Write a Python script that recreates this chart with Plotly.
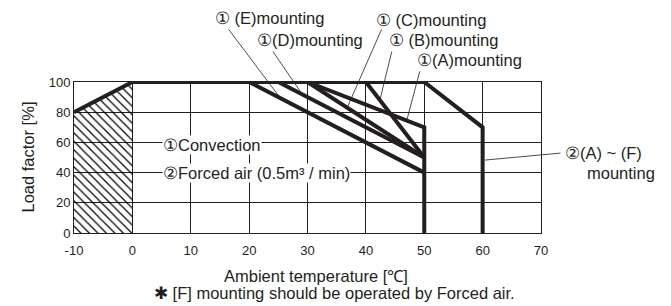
import plotly.graph_objects as go

# ---- data ----
x_ticks = [-10, 0, 10, 20, 30, 40, 50, 60, 70]
x_tick_labels = ["-10", "0", "10", "20", "30", "40", "50", "60", "70"]
y_ticks = [0, 20, 40, 60, 80, 100]
y_tick_labels = ["0", "20", "40", "60", "80", "100"]

# derating envelope (common start + forced air)
forced_x = [-10, 0, 50, 60, 60]
forced_y = [80, 100, 100, 70, 0]
# hatched low-temperature region
hatch_x = [-10, -10, 0, 0]
hatch_y = [0, 80, 100, 0]
# convection mountings
conv_A_x = [30, 50, 50]
conv_A_y = [100, 70, 0]
conv_B_x = [40, 50]
conv_B_y = [100, 50]
conv_C_x = [30, 50]
conv_C_y = [100, 50]
conv_D_x = [25, 50]
conv_D_y = [100, 50]
conv_E_x = [20, 50]
conv_E_y = [100, 40]

INK = "#231f20"
FONT = "Liberation Sans, Arial, sans-serif"
FS = 16.5

fig = go.Figure()

fig.add_trace(go.Scatter(
    x=hatch_x, y=hatch_y, mode="lines", fill="toself",
    line=dict(width=0, color="rgba(0,0,0,0)"),
    fillcolor="rgba(0,0,0,0)",
    fillpattern=dict(shape="\\", fgcolor="#000000", bgcolor="rgba(0,0,0,0)",
                     fgopacity=1, size=6, solidity=0.2),
    hoverinfo="skip", showlegend=False))

for xs, ys in [(forced_x, forced_y), (conv_A_x, conv_A_y), (conv_B_x, conv_B_y),
               (conv_C_x, conv_C_y), (conv_D_x, conv_D_y), (conv_E_x, conv_E_y)]:
    fig.add_trace(go.Scatter(x=xs, y=ys, mode="lines",
                             line=dict(color=INK, width=4),
                             showlegend=False, hoverinfo="skip"))

# ---- labels (paper coordinates, outside plot area) ----
labels = [
    ("① (E)mounting", 0.2976, 1.424),
    ("①(D)mounting", 0.3876, 1.278),
    ("① (C)mounting", 0.6424, 1.411),
    ("① (B)mounting", 0.6702, 1.278),
    ("①(A)mounting", 0.7302, 1.146),
    ("②(A) ~ (F)", 1.0471, 0.530),
    ("mounting", 1.0942, 0.397),
]
for t, x, y in labels:
    fig.add_annotation(x=x, y=y, xref="paper", yref="paper", text=t,
                       showarrow=False, xanchor="left", yanchor="middle",
                       font=dict(size=FS, color=INK, family=FONT))

# labels sitting on grid lines (white background)
for t, x, y in [("①Convection", 5.0, 58.5), ("②Forced air (0.5m³ / min)", 5.0, 39.5)]:
    fig.add_annotation(x=x, y=y, xref="x", yref="y", text=t, showarrow=False,
                       xanchor="left", yanchor="middle", bgcolor="white",
                       borderpad=0,
                       font=dict(size=FS, color=INK, family=FONT))

# leader lines: (tip x, tip y, tail x, tail y) in data units
leaders = [
    (25.3, 89.6, 16.3, 135.8),
    (29.1, 91.8, 23.9, 121.2),
    (36.8, 83.0, 42.8, 135.8),
    (42.4, 88.0, 44.5, 121.2),
    (47.0, 74.5, 49.3, 108.0),
    (60.4, 48.3, 73.6, 53.0),
]
for tx, ty, ax, ay in leaders:
    fig.add_annotation(x=tx, y=ty, ax=ax, ay=ay, xref="x", yref="y",
                       axref="x", ayref="y", text="", showarrow=True,
                       arrowhead=0, arrowwidth=0.8, arrowcolor=INK, standoff=0,
                       startstandoff=0)

# axis titles and footnote
fig.add_annotation(x=-0.1006, y=0.5, xref="paper", yref="paper",
                   text="Load factor [%]", textangle=-90, showarrow=False,
                   xanchor="center", yanchor="middle",
                   font=dict(size=FS, color=INK, family=FONT))
fig.add_annotation(x=0.5177, y=-0.285, xref="paper", yref="paper",
                   text="Ambient temperature [℃]", showarrow=False,
                   xanchor="center", yanchor="middle",
                   font=dict(size=FS, color=INK, family=FONT))
fig.add_annotation(x=0.5575, y=-0.40, xref="paper", yref="paper",
                   text="✱ [F] mounting should be operated by Forced air.",
                   showarrow=False, xanchor="center", yanchor="middle",
                   font=dict(size=FS, color=INK, family=FONT))

axis_common = dict(showline=True, mirror=True, linecolor=INK, linewidth=1,
                   showgrid=True, gridcolor=INK, gridwidth=1, zeroline=False,
                   ticks="", tickfont=dict(size=13, color=INK, family=FONT))

fig.update_xaxes(range=[-10, 70], tickvals=x_ticks, ticktext=x_tick_labels,
                 ticklabelstandoff=5, **axis_common)
fig.update_yaxes(range=[0, 100], tickvals=y_ticks, ticktext=y_tick_labels,
                 **axis_common)

fig.update_layout(
    width=671, height=306,
    margin=dict(l=74, r=130, t=82, b=73),
    paper_bgcolor="white", plot_bgcolor="white",
    showlegend=False,
)

fig.write_html("out.html", config={"displayModeBar": False},
               post_script="document.body.style.margin='0';document.body.style.padding='0';")
